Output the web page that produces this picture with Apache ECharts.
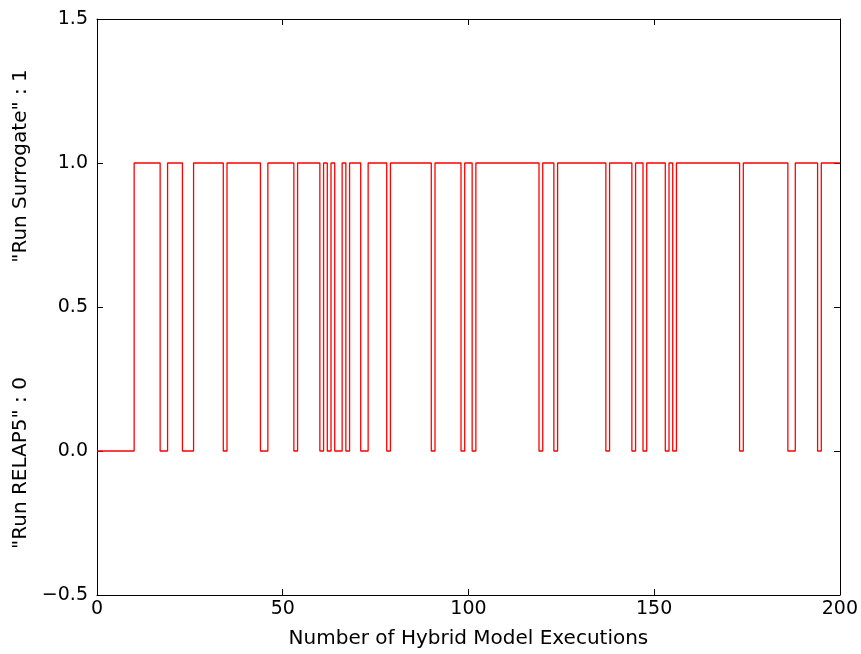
<!DOCTYPE html>
<html>
<head>
<meta charset="utf-8">
<script src="https://cdn.jsdelivr.net/npm/echarts@6/dist/echarts.min.js"></script>
<style>html,body{margin:0;padding:0;background:#fff}#c{width:861px;height:654px}</style>
</head>
<body>
<div id="c"></div>
<script>
// Execution index at which the decision switches, and the decision value from then on
const switchX = [0, 10, 17, 19, 23, 26, 34, 35, 44, 46, 53, 54, 60, 61, 62, 63, 64, 66, 67, 68, 71, 73, 78, 79, 90, 91, 98, 99, 101, 102, 119, 120, 123, 124, 137, 138, 144, 145, 147, 148, 153, 154, 155, 156, 173, 174, 186, 188, 194, 195, 200];
const switchY = [0, 1, 0, 1, 0, 1, 0, 1, 0, 1, 0, 1, 0, 1, 0, 1, 0, 1, 0, 1, 0, 1, 0, 1, 0, 1, 0, 1, 0, 1, 0, 1, 0, 1, 0, 1, 0, 1, 0, 1, 0, 1, 0, 1, 0, 1, 0, 1, 0, 1, 1];
const xTicks = [0, 50, 100, 150, 200];
const yTicks = [-0.5, 0.0, 0.5, 1.0, 1.5];
const xTitle = 'Number of Hybrid Model Executions';
const yLabelHigh = '"Run Surrogate" : 1';
const yLabelLow = '"Run RELAP5" : 0';

const FONT = 'DejaVu Sans, sans-serif';
const FS = 19;
const chart = echarts.init(document.getElementById('c'), null, {renderer: 'canvas'});
const data = switchX.map((x, i) => [x, switchY[i]]);
const fmtY = v => (v < 0 ? '\u2212' : '') + Math.abs(v).toFixed(1);
const tickCommon = {show: true, inside: true, length: 6, lineStyle: {color: '#000', width: 1}};
const lineCommon = {show: true, onZero: false, lineStyle: {color: '#000', width: 1}};

chart.setOption({
  backgroundColor: '#fff',
  animation: false,
  grid: {left: 97, right: 20, top: 19, bottom: 58, containLabel: false},
  xAxis: [
    {type: 'value', min: xTicks[0], max: xTicks[xTicks.length - 1], interval: 50,
     axisLine: lineCommon, axisTick: tickCommon, splitLine: {show: false},
     axisLabel: {color: '#000', fontSize: FS, fontFamily: FONT, margin: 5},
     name: xTitle, nameLocation: 'middle', nameGap: 34,
     nameTextStyle: {color: '#000', fontSize: 20, fontFamily: FONT}},
    {type: 'value', position: 'top', min: 0, max: 200, interval: 50,
     axisLine: lineCommon, axisTick: tickCommon, axisLabel: {show: false}, splitLine: {show: false}}
  ],
  yAxis: [
    {type: 'value', min: yTicks[0], max: yTicks[yTicks.length - 1], interval: 0.5,
     axisLine: lineCommon, axisTick: tickCommon, splitLine: {show: false},
     axisLabel: {color: '#000', fontSize: FS, fontFamily: FONT, margin: 9, formatter: fmtY}},
    {type: 'value', position: 'right', min: -0.5, max: 1.5, interval: 0.5,
     axisLine: lineCommon, axisTick: tickCommon, axisLabel: {show: false}, splitLine: {show: false}}
  ],
  graphic: [
    {type: 'text', x: 21, y: 166, rotation: Math.PI / 2,
     style: {text: yLabelHigh, fill: '#000', font: '20px ' + FONT, textAlign: 'center', textVerticalAlign: 'middle'}},
    {type: 'text', x: 21, y: 463, rotation: Math.PI / 2,
     style: {text: yLabelLow, fill: '#000', font: '20px ' + FONT, textAlign: 'center', textVerticalAlign: 'middle'}}
  ],
  series: [{
    type: 'line', step: 'end', data: data, showSymbol: false, symbol: 'none',
    lineStyle: {color: '#ff0000', width: 1.3}, xAxisIndex: 0, yAxisIndex: 0
  }]
});
</script>
</body>
</html>
